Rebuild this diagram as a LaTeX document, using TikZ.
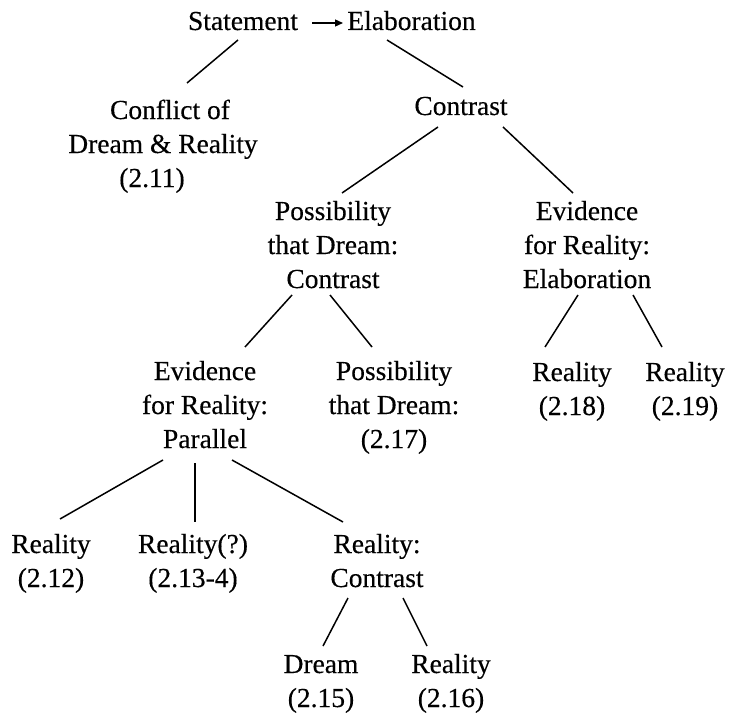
\documentclass[tikz,border=0pt]{standalone}
\usepackage{fontspec}
\setmainfont{Liberation Serif}[FakeBold=0.35]
\usetikzlibrary{arrows.meta}
\begin{document}
\begin{tikzpicture}[x=1pt,y=-1pt,
  lbl/.style={inner sep=0pt,outer sep=0pt,anchor=base,align=center,font=\fontsize{27.5}{34}\selectfont},
  edge/.style={draw,line width=1.5pt},
  arr/.style={draw,line width=1.3pt,-{Triangle[length=8pt,width=7pt]}}]
\useasboundingbox (0,0) rectangle (730,714);
\node[lbl] (stmt) at (243,30) {Statement};
\node[lbl] (elab) at (411.5,30) {Elaboration};
\node[lbl] (conflict) at (163,187) {\hspace*{14pt}Conflict of\\Dream \& Reality\\(2.11)\hspace*{22pt}};
\node[lbl] (contrast) at (461,115) {Contrast};
\node[lbl] (possC) at (333,288) {Possibility\\that Dream:\\Contrast};
\node[lbl] (evidE) at (587,288) {Evidence\\for Reality:\\Elaboration};
\node[lbl] (evidP) at (205,448) {Evidence\\for Reality:\\Parallel};
\node[lbl] (possD) at (394,448) {Possibility\\that Dream:\\(2.17)};
\node[lbl] (r18) at (572,415) {Reality\\(2.18)};
\node[lbl] (r19) at (685,415) {Reality\\(2.19)};
\node[lbl] (r12) at (51,587) {Reality\\(2.12)};
\node[lbl] (r13) at (193,587) {Reality(?)\\(2.13-4)};
\node[lbl] (rc) at (377,587) {Reality:\\Contrast};
\node[lbl] (dream) at (321,707) {Dream\\(2.15)};
\node[lbl] (r16) at (451,707) {Reality\\(2.16)};

\draw[arr] ([shift={(69,-7)}]stmt.base) -- ([shift={(-68.5,-7)}]elab.base);

\draw[edge] ([shift={(-5,10)}]stmt.base) -- ([shift={(24,-104)}]conflict.base);
\draw[edge] ([shift={(-24.5,10)}]elab.base) -- ([shift={(2,-28)}]contrast.base);
\draw[edge] ([shift={(-23,12)}]contrast.base) -- ([shift={(9,-95)}]possC.base);
\draw[edge] ([shift={(42,12)}]contrast.base) -- ([shift={(-14,-95)}]evidE.base);
\draw[edge] ([shift={(-41,7)}]possC.base) -- ([shift={(40,-101)}]evidP.base);
\draw[edge] ([shift={(-3,7)}]possC.base) -- ([shift={(-22,-101)}]possD.base);
\draw[edge] ([shift={(-9,7)}]evidE.base) -- ([shift={(-27,-68)}]r18.base);
\draw[edge] ([shift={(46,7)}]evidE.base) -- ([shift={(-23,-68)}]r19.base);
\draw[edge] ([shift={(-42,12)}]evidP.base) -- ([shift={(9,-68)}]r12.base);
\draw[edge] ([shift={(-10,15)}]evidP.base) -- ([shift={(2,-65)}]r13.base);
\draw[edge] ([shift={(27,12)}]evidP.base) -- ([shift={(-34,-65)}]rc.base);
\draw[edge] ([shift={(-29,11)}]rc.base) -- ([shift={(2,-61)}]dream.base);
\draw[edge] ([shift={(26,11)}]rc.base) -- ([shift={(-24,-61)}]r16.base);
\end{tikzpicture}
\end{document}
